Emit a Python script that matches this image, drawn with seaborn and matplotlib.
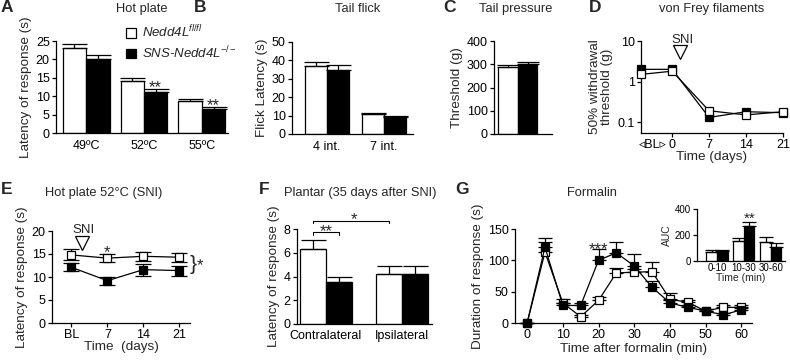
import numpy as np
import pandas as pd
import seaborn as sns
import matplotlib
matplotlib.use("Agg")
import matplotlib.pyplot as plt
from matplotlib.patches import Patch
from matplotlib.ticker import NullLocator

# ---------------- data ----------------
A_cats = ["49ºC", "52ºC", "55ºC"]
A_wt = [23.0, 14.2, 8.8]
A_wt_err = [1.2, 0.8, 0.5]
A_ko = [20.1, 11.2, 6.6]
A_ko_err = [1.2, 0.8, 0.4]

B_cats = ["4 int.", "7 int."]
B_wt = [37.0, 10.8]
B_wt_err = [2.0, 0.8]
B_ko = [35.0, 9.4]
B_ko_err = [2.5, 0.5]

C_cats = ["tail"]
C_wt = [290.0]
C_wt_err = [8.0]
C_ko = [300.0]
C_ko_err = [10.0]

D_days = ["BL", 0, 7, 14, 21]
D_wt = [1.5, 1.8, 0.19, 0.15, 0.18]
D_ko = [2.0, 2.0, 0.13, 0.18, 0.17]

E_days = ["BL", 7, 14, 21]
E_wt = [14.8, 14.1, 14.5, 14.3]
E_wt_err = [1.2, 0.9, 1.0, 1.0]
E_ko = [12.1, 9.2, 11.6, 11.4]
E_ko_err = [0.9, 0.9, 1.3, 1.1]

F_cats = ["Contralateral", "Ipsilateral"]
F_wt = [6.35, 4.2]
F_wt_err = [0.75, 0.65]
F_ko = [3.55, 4.25]
F_ko_err = [0.45, 0.6]

G_time = [0, 5, 10, 15, 20, 25, 30, 35, 40, 45, 50, 55, 60]
G_wt = [0, 113, 32, 10, 36, 80, 81, 82, 38, 33, 19, 25, 25]
G_wt_err = [0, 16, 6, 3, 5, 7, 5, 15, 10, 4, 3, 3, 3]
G_ko = [0, 121, 28, 28, 100, 112, 91, 57, 32, 25, 19, 13, 21]
G_ko_err = [0, 15, 4, 4, 18, 17, 19, 10, 4, 3, 3, 3, 3]

AUC_cats = ["0-10", "10-30", "30-60"]
AUC_wt = [70, 155, 150]
AUC_wt_err = [15, 20, 35]
AUC_ko = [75, 270, 105]
AUC_ko_err = [8, 30, 30]

LEG_LABELS = ["Nedd4L$^{fl/fl}$", "SNS-Nedd4L$^{-/-}$"]

# ---------------- style ----------------
sns.set_style("ticks")
plt.rcParams["font.family"] = ["Liberation Sans", "DejaVu Sans"]
plt.rcParams["mathtext.fontset"] = "custom"
plt.rcParams["mathtext.rm"] = "Liberation Sans"
plt.rcParams["mathtext.it"] = "Liberation Sans:italic"
plt.rcParams["mathtext.bf"] = "Liberation Sans:bold"
plt.rcParams["axes.linewidth"] = 0.9
plt.rcParams["axes.edgecolor"] = "black"

W, H = 790, 361
fig = plt.figure(figsize=(W / 100, H / 100), dpi=100)

TICK_FS = 9
LAB_FS = 9.7
TITLE_FS = 9.3


def px_ax(l, t, r, b):
    return fig.add_axes([l / W, 1 - b / H, (r - l) / W, (b - t) / H])


def ftext(x, y, s, **kw):
    kw.setdefault("ha", "center")
    kw.setdefault("va", "center")
    fig.text(x / W, 1 - y / H, s, **kw)


def style(ax, fs=TICK_FS):
    sns.despine(ax=ax)
    ax.tick_params(length=3, width=0.9, labelsize=fs, pad=1.5, colors="black")


def bars(ax, cats, wt, wte, ko, koe, width, capsize):
    df = pd.DataFrame({
        "cat": list(cats) * 2,
        "grp": ["WT"] * len(cats) + ["KO"] * len(cats),
        "val": list(wt) + list(ko),
    })
    sns.barplot(data=df, x="cat", y="val", hue="grp", order=cats,
                hue_order=["WT", "KO"], palette={"WT": "white", "KO": "black"},
                edgecolor="black", linewidth=0.9, width=width, errorbar=None,
                legend=False, ax=ax)
    for cont, errs in zip(ax.containers, [wte, koe]):
        for bar, e in zip(cont, errs):
            ax.errorbar(bar.get_x() + bar.get_width() / 2, bar.get_height(),
                        yerr=[[0], [e]], fmt="none", ecolor="black",
                        elinewidth=0.9, capsize=capsize, capthick=0.9, zorder=1)
    ax.set_xlabel("")
    ax.set_ylabel("")


def line(ax, x, y, face, ms, err=None, capsize=5, up_only=False, z=3):
    if err is not None:
        yerr = [[0] * len(err), err] if up_only else err
        ax.errorbar(x, y, yerr=yerr, fmt="none", ecolor="black", elinewidth=0.9,
                    capsize=capsize, capthick=0.9, zorder=z - 0.5, clip_on=False)
    sns.lineplot(x=x, y=y, color="black", marker="s", markersize=ms,
                 markerfacecolor=face, markeredgecolor="black",
                 markeredgewidth=0.9, linewidth=0.9, ax=ax, zorder=z,
                 clip_on=False, sort=False)


# ---------------- A ----------------
ax = px_ax(56, 41, 228, 133)
bars(ax, A_cats, A_wt, A_wt_err, A_ko, A_ko_err, 0.81, 9)
style(ax)
ax.tick_params(axis="x", length=0, pad=5)
ax.set_xlim(-0.52, 2.45)
ax.set_ylim(0, 25)
ax.set_yticks(range(0, 26, 5))
ax.set_ylabel("Latency of response (s)", fontsize=LAB_FS, labelpad=3)
ax.text(1.2, 11.1, "**", ha="center", va="baseline", fontsize=12)
ax.text(2.2, 6.2, "**", ha="center", va="baseline", fontsize=12)
handles = [Patch(facecolor="white", edgecolor="black", lw=0.9),
           Patch(facecolor="black", edgecolor="black", lw=0.9)]
ax.legend(handles, LEG_LABELS, loc="upper left", bbox_to_anchor=(126 / W, 1 - 24 / H),
          bbox_transform=fig.transFigure, frameon=False, borderpad=0,
          borderaxespad=0, handlelength=0.75, handleheight=0.75,
          handletextpad=0.45, labelspacing=0.3,
          prop={"style": "italic", "size": 9.5})

# ---------------- B ----------------
ax = px_ax(292, 42, 413, 134)
bars(ax, B_cats, B_wt, B_wt_err, B_ko, B_ko_err, 0.77, 9)
style(ax)
ax.tick_params(axis="x", length=0, pad=5)
ax.set_xlim(-0.61, 1.51)
ax.set_ylim(0, 50)
ax.set_yticks(range(0, 51, 10))
ax.set_ylabel("Flick Latency (s)", fontsize=LAB_FS, labelpad=3)

# ---------------- C ----------------
ax = px_ax(494, 41, 552, 134)
bars(ax, C_cats, C_wt, C_wt_err, C_ko, C_ko_err, 0.8, 8)
style(ax)
ax.set_xticks([])
ax.set_xlim(-0.49, 0.70)
ax.set_ylim(0, 400)
ax.set_yticks(range(0, 401, 100))
ax.set_ylabel("Threshold (g)", fontsize=LAB_FS, labelpad=3)

# ---------------- D ----------------
ax = px_ax(641, 41, 783, 133)
D_bl_pos = -5.9
D_x = [D_bl_pos if d == "BL" else d for d in D_days]
line(ax, D_x, D_ko, "black", 5.5, z=3)
line(ax, D_x, D_wt, "white", 5.5, z=4)
ax.set_yscale("log")
ax.set_ylim(0.0537, 10)
ax.set_xlim(D_bl_pos, 21)
ax.set_yticks([0.1, 1, 10])
ax.set_yticklabels(["0.1", "1", "10"])
ax.yaxis.set_minor_locator(NullLocator())
style(ax)
ax.set_xticks([-3.6, 0, 7, 14, 21])
ax.set_xticklabels(["◃BL▹", "0", "7", "14", "21"])
ax.xaxis.get_major_ticks()[0].tick1line.set_visible(False)
ax.set_xlabel("Time (days)", fontsize=LAB_FS, labelpad=0)
ax.set_ylabel("50% withdrawal\nthreshold (g)", fontsize=LAB_FS, labelpad=3,
              linespacing=1.0)
ax.plot(1.5, 5.4, marker="v", ms=10, mfc="white", mec="black", mew=0.9,
        clip_on=False, zorder=5)
ax.text(1.9, 10.6, "SNI", ha="center", va="center", fontsize=9.5)

# ---------------- E ----------------
ax = px_ax(52, 231, 190, 323)
E_x = [0 if d == "BL" else d for d in E_days]
line(ax, E_x, E_ko, "black", 6, err=E_ko_err, capsize=6, z=3)
line(ax, E_x, E_wt, "white", 6, err=E_wt_err, capsize=6, z=4)
style(ax)
ax.set_xlim(-3.8, 23.1)
ax.set_ylim(0, 20)
ax.set_yticks(range(0, 21, 5))
ax.set_xticks(E_x)
ax.set_xticklabels([str(d) for d in E_days])
ax.set_xlabel("Time  (days)", fontsize=LAB_FS, labelpad=0)
ax.set_ylabel("Latency of response (s)", fontsize=LAB_FS, labelpad=3)
ax.plot(2.1, 17.4, marker="v", ms=10, mfc="white", mec="black", mew=0.9,
        clip_on=False, zorder=5)
ax.text(2.4, 20.2, "SNI", ha="center", va="center", fontsize=9.5)
ax.text(7, 14.4, "*", ha="center", va="baseline", fontsize=12)
ftext(193, 264, "}", fontsize=15)
ftext(200, 266, "*", fontsize=12)

# ---------------- F ----------------
ax = px_ax(297, 229, 432, 324)
bars(ax, F_cats, F_wt, F_wt_err, F_ko, F_ko_err, 0.68, 9)
style(ax)
ax.tick_params(axis="x", length=0, pad=4)
ax.set_xlim(-0.38, 1.39)
ax.set_ylim(0, 8)
ax.set_yticks(range(0, 9, 2))
ax.set_ylabel("Latency of response (s)", fontsize=LAB_FS, labelpad=3)
ax.plot([-0.17, -0.17, 0.17, 0.17], [7.5, 7.77, 7.77, 7.5], color="black",
        lw=0.8, clip_on=False)
ax.plot([-0.17, -0.17, 0.83, 0.83], [8.5, 8.7, 8.7, 8.5], color="black",
        lw=0.8, clip_on=False)
ax.text(0.0, 7.4, "**", ha="center", va="baseline", fontsize=12)
ax.text(0.37, 8.4, "*", ha="center", va="baseline", fontsize=12)

# ---------------- G ----------------
ax = px_ax(515, 229, 752, 323)
line(ax, G_time, G_wt, "white", 5.5, err=G_wt_err, capsize=5, up_only=True, z=3)
line(ax, G_time, G_ko, "black", 5.5, err=G_ko_err, capsize=5, up_only=True, z=4)
style(ax)
ax.set_xlim(-3.4, 63.0)
ax.set_ylim(0, 150)
ax.set_yticks([0, 50, 100, 150])
ax.set_xticks(range(0, 61, 10))
ax.set_xlabel("Time after formalin (min)", fontsize=LAB_FS, labelpad=1)
ax.set_ylabel("Duration of response (s)", fontsize=LAB_FS, labelpad=3)
ax.text(20, 110, "***", ha="center", va="baseline", fontsize=12)

# inset AUC
ax = px_ax(697, 209, 785, 261)
bars(ax, AUC_cats, AUC_wt, AUC_wt_err, AUC_ko, AUC_ko_err, 0.78, 5)
style(ax, fs=7)
ax.tick_params(axis="x", length=0)
ax.set_xlim(-0.74, 2.52)
ax.set_ylim(0, 400)
ax.set_yticks([0, 200, 400])
ax.set_ylabel("AUC", fontsize=7.5, labelpad=2)
ax.set_xlabel("Time (min)", fontsize=7.5, labelpad=0)
ax.text(1.2, 292, "**", ha="center", va="baseline", fontsize=11)

# ---------------- titles & panel letters ----------------
ftext(142, 9, "Hot plate", fontsize=TITLE_FS)
ftext(358, 9, "Tail flick", fontsize=TITLE_FS)
ftext(516, 9, "Tail pressure", fontsize=TITLE_FS)
ftext(712, 9, "von Frey filaments", fontsize=TITLE_FS)
ftext(104, 193, "Hot plate 52°C (SNI)", fontsize=TITLE_FS)
ftext(360, 193, "Plantar (35 days after SNI)", fontsize=TITLE_FS)
ftext(592, 193, "Formalin", fontsize=TITLE_FS)

for x, y, s in [(7, 8, "A"), (200, 8, "B"), (449, 8, "C"), (595, 8, "D"),
                (7, 190, "E"), (264, 189, "F"), (462, 189, "G")]:
    ftext(x, y, s, fontsize=12.5, fontweight="bold")

fig.savefig("out.png", dpi=100)
